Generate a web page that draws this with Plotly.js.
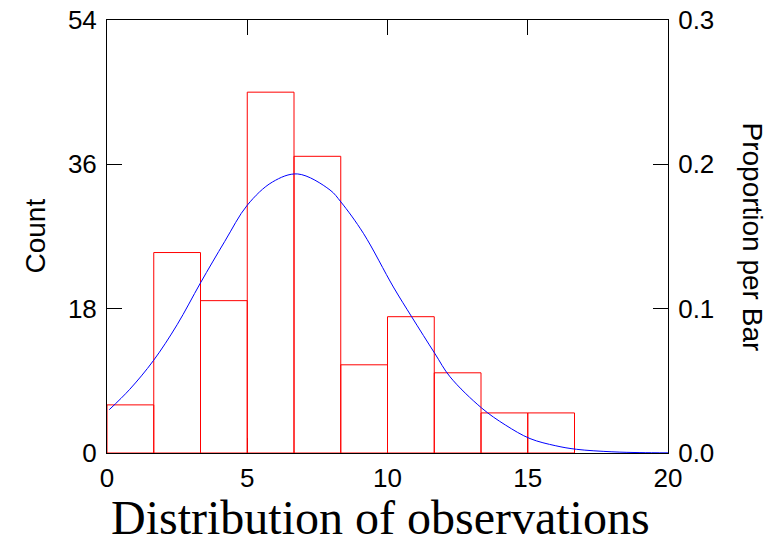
<!DOCTYPE html>
<html>
<head>
<meta charset="utf-8">
<script src="https://cdn.plot.ly/plotly-3.0.1.min.js"></script>
<style>html,body{margin:0;padding:0;background:#fff;}#chart{width:773px;height:543px;}</style>
</head>
<body>
<div id="chart"></div>
<script>
// Histogram bins (edges) and counts
const binEdges = [0, 1.6667, 3.3333, 5, 6.6667, 8.3333, 10, 11.6667, 13.3333, 15, 16.6667];
const counts = [6, 25, 19, 45, 37, 11, 17, 10, 5, 5];
// Fitted normal curve (x, count)
const curveX = [0.08, 0.8, 1.65, 2.5, 3.33, 4.2, 5.0, 5.9, 6.8, 7.95, 8.34, 9.14, 10.21, 10.86, 11.69, 12.23, 13.36, 14.2, 15.08, 16.0, 16.74, 18.0, 19.0, 20.0];
const curveY = [5.4, 7.9, 11.5, 16.0, 21.2, 26.4, 30.9, 33.8, 34.8, 32.8, 31.3, 27.4, 20.7, 17.0, 12.4, 9.5, 5.6, 3.5, 1.8, 0.9, 0.46, 0.15, 0.05, 0.02];
const xTicks = [0, 5, 10, 15, 20];
const countTicks = [0, 18, 36, 54];
const propTicks = [0.0, 0.1, 0.2, 0.3];
const totalN = counts.reduce((a, b) => a + b, 0);

const centers = counts.map((_, i) => (binEdges[i] + binEdges[i + 1]) / 2);
const widths = counts.map((_, i) => binEdges[i + 1] - binEdges[i]);

const tickFont = {family: 'Liberation Sans, Arial, sans-serif', size: 26, color: '#000'};

const traces = [
  {
    type: 'bar', x: centers, y: counts, width: widths,
    marker: {color: 'rgba(0,0,0,0)', line: {color: '#ff0000', width: 1}},
    hoverinfo: 'skip', showlegend: false
  },
  {
    type: 'scatter', mode: 'lines', x: curveX, y: curveY,
    line: {color: '#0000ff', width: 1, shape: 'spline', smoothing: 1},
    showlegend: false
  },
  {
    type: 'scatter', mode: 'lines', x: [0], y: [0], yaxis: 'y2',
    line: {color: 'rgba(0,0,0,0)'}, showlegend: false, hoverinfo: 'skip'
  }
];

const layout = {
  width: 773, height: 543,
  margin: {l: 107, r: 105, t: 20, b: 90},
  paper_bgcolor: '#fff', plot_bgcolor: '#fff',
  showlegend: false,
  bargap: 0,
  xaxis: {
    range: [0, 20], tickvals: xTicks, ticktext: xTicks.map(String),
    ticks: 'inside', ticklen: 15, tickcolor: '#000', tickwidth: 1,
    showline: true, linecolor: '#000', linewidth: 1, mirror: 'ticks',
    showgrid: false, zeroline: false, layer: 'below traces',
    tickfont: tickFont, ticklabelstandoff: 2
  },
  yaxis: {
    range: [0, 54], tickvals: countTicks, ticktext: countTicks.map(String),
    ticks: 'inside', ticklen: 15, tickcolor: '#000', tickwidth: 1,
    showline: true, linecolor: '#000', linewidth: 1,
    showgrid: false, zeroline: false, layer: 'below traces',
    tickfont: tickFont, ticklabelstandoff: 4
  },
  yaxis2: {
    overlaying: 'y', side: 'right',
    range: [0, 54 / totalN], tickvals: propTicks, ticktext: propTicks.map(v => v.toFixed(1)),
    ticks: 'inside', ticklen: 15, tickcolor: '#000', tickwidth: 1,
    showline: true, linecolor: '#000', linewidth: 1,
    showgrid: false, zeroline: false, layer: 'below traces',
    tickfont: tickFont, ticklabelstandoff: 4
  },
  annotations: [
    {text: 'Count', xref: 'paper', yref: 'paper', x: 0, y: 0.5, xshift: -72, textangle: -90,
     showarrow: false, xanchor: 'center', yanchor: 'middle',
     font: {family: 'Liberation Sans, Arial, sans-serif', size: 28, color: '#000'}},
    {text: 'Proportion per Bar', xref: 'paper', yref: 'paper', x: 1, y: 0.5, xshift: 84, textangle: 90,
     showarrow: false, xanchor: 'center', yanchor: 'middle',
     font: {family: 'Liberation Sans, Arial, sans-serif', size: 28, color: '#000'}},
    {text: 'Distribution of observations', xref: 'paper', yref: 'paper', x: 0.5, y: 0, xshift: -7, yshift: -64,
     showarrow: false, xanchor: 'center', yanchor: 'middle',
     font: {family: 'Liberation Serif, Times New Roman, serif', size: 48, color: '#000'}}
  ]
};

Plotly.newPlot('chart', traces, layout, {displayModeBar: false, staticPlot: true});
</script>
</body>
</html>
